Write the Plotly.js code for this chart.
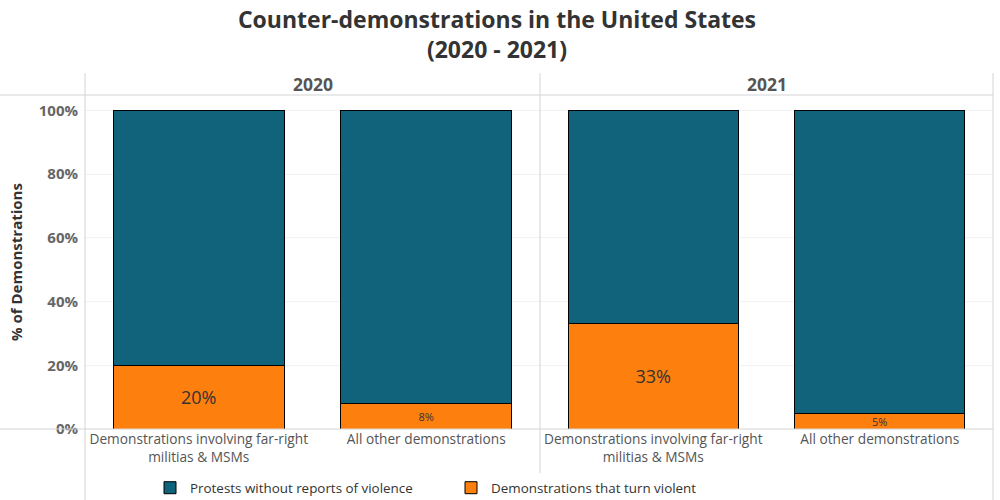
<!DOCTYPE html>
<html>
<head>
<meta charset="utf-8">
<script src="https://cdn.plot.ly/plotly-3.0.1.min.js"></script>
<style>html,body{margin:0;padding:0;background:#fff;}#chart{width:1000px;height:500px;}</style>
</head>
<body>
<div id="chart"></div>
<script>
const titleLines = ['Counter-demonstrations in the United States', '(2020 - 2021)'];
const years = ['2020', '2021'];
const categories = ['Demonstrations involving far-right<br>militias & MSMs', 'All other demonstrations'];
const violent2020 = [0.20, 0.08];
const violent2021 = [0.33, 0.05];
const peaceful2020 = [0.80, 0.92];
const peaceful2021 = [0.67, 0.95];
const violentLabels2020 = ['20%', '8%'];
const violentLabels2021 = ['33%', '5%'];
const seriesNames = ['Protests without reports of violence', 'Demonstrations that turn violent'];

const TEAL = '#10637a';
const ORANGE = '#fd7f0e';
const labelSizes = [18, 11];
const FONT = 'Open Sans, sans-serif';

function orangeTrace(vals, labels, xa, ya, show) {
  return {
    type: 'bar', x: categories, y: vals, xaxis: xa, yaxis: ya,
    name: seriesNames[1], showlegend: show, legendrank: 2, legendgroup: 'v',
    marker: {color: ORANGE, line: {color: '#000', width: 1}},
    text: labels, textposition: 'inside', insidetextanchor: 'middle',
    textfont: {color: '#333', size: labelSizes, family: FONT},
    constraintext: 'none', width: 0.75, hoverinfo: 'none'
  };
}
function tealTrace(vals, xa, ya, show) {
  return {
    type: 'bar', x: categories, y: vals, xaxis: xa, yaxis: ya,
    name: seriesNames[0], showlegend: show, legendrank: 1, legendgroup: 'p',
    marker: {color: TEAL, line: {color: '#000', width: 1}},
    width: 0.75, hoverinfo: 'none'
  };
}

const data = [
  orangeTrace(violent2020, violentLabels2020, 'x', 'y', true),
  tealTrace(peaceful2020, 'x', 'y', true),
  orangeTrace(violent2021, violentLabels2021, 'x2', 'y2', false),
  tealTrace(peaceful2021, 'x2', 'y2', false)
];

const L = 85, R = 7, T = 95, B = 71;
const W = 1000 - L - R, H = 500 - T - B;
const px = v => (v - L) / W;
const py = v => (500 - B - v) / H;
const split = px(540);
const lineC = '#d4d4d4';

const yBase = {
  range: [0, 1.0487], tickvals: [0, 0.2, 0.4, 0.6, 0.8, 1.0], fixedrange: true,
  showgrid: true, gridcolor: '#f2f2f2', zeroline: false, showline: false
};
const xBase = {
  type: 'category', range: [-0.5, 1.5], showline: false, showgrid: false, zeroline: false,
  tickfont: {size: 13.7, color: '#555', family: FONT}, ticks: '', ticklen: 0
};

const layout = {
  width: 1000, height: 500,
  margin: {l: L, r: R, t: T, b: B, pad: 0, autoexpand: false},
  paper_bgcolor: '#fff', plot_bgcolor: '#fff',
  barmode: 'stack',
  font: {family: FONT, color: '#555'},
  title: {
    text: '<b>' + titleLines.join('<br>') + '</b>',
    x: 0.497, xanchor: 'center', y: 1 - 28 / 500, yanchor: 'middle',
    font: {size: 23, color: '#333', family: FONT}
  },
  xaxis: Object.assign({}, xBase, {domain: [0, split], anchor: 'y'}),
  xaxis2: Object.assign({}, xBase, {domain: [split, 1], anchor: 'y2'}),
  yaxis: Object.assign({}, yBase, {
    anchor: 'x', tickformat: '.0%', ticklabelstandoff: 6,
    tickfont: {size: 15, color: '#666', family: FONT, weight: 'bold'},
    title: {text: '<b>% of Demonstrations</b>', standoff: 12,
      font: {size: 15, color: '#333', family: FONT}}
  }),
  yaxis2: Object.assign({}, yBase, {anchor: 'x2', showticklabels: false}),
  legend: {
    orientation: 'h', x: px(150), xanchor: 'left', y: py(488), yanchor: 'middle',
    font: {size: 13.4, color: '#333', family: FONT},
    itemwidth: 30, tracegroupgap: 0, entrywidth: 256
  },
  showlegend: true,
  shapes: [
    {type: 'line', xref: 'paper', yref: 'paper', x0: px(0), x1: 1, y0: 1, y1: 1, line: {color: lineC, width: 1}},
    {type: 'line', xref: 'paper', yref: 'paper', x0: px(0), x1: 1, y0: 0, y1: 0, line: {color: lineC, width: 1}},
    {type: 'line', xref: 'paper', yref: 'paper', x0: 0, x1: 0, y0: py(500), y1: py(73), line: {color: lineC, width: 1}},
    {type: 'line', xref: 'paper', yref: 'paper', x0: split, x1: split, y0: py(500), y1: py(73), line: {color: lineC, width: 1}},
    {type: 'line', xref: 'paper', yref: 'paper', x0: px(993), x1: px(993), y0: py(500), y1: py(73), line: {color: lineC, width: 1}}
  ],
  annotations: [
    {xref: 'paper', yref: 'paper', x: split / 2, y: py(84), text: '<b>' + years[0] + '</b>', showarrow: false,
      xanchor: 'center', yanchor: 'middle', font: {size: 17.5, color: '#555'}},
    {xref: 'paper', yref: 'paper', x: (split + 1) / 2, y: py(84), text: '<b>' + years[1] + '</b>', showarrow: false,
      xanchor: 'center', yanchor: 'middle', font: {size: 17.5, color: '#555'}}
  ]
};

Plotly.newPlot('chart', data, layout, {displayModeBar: false, staticPlot: true});
</script>
</body>
</html>
